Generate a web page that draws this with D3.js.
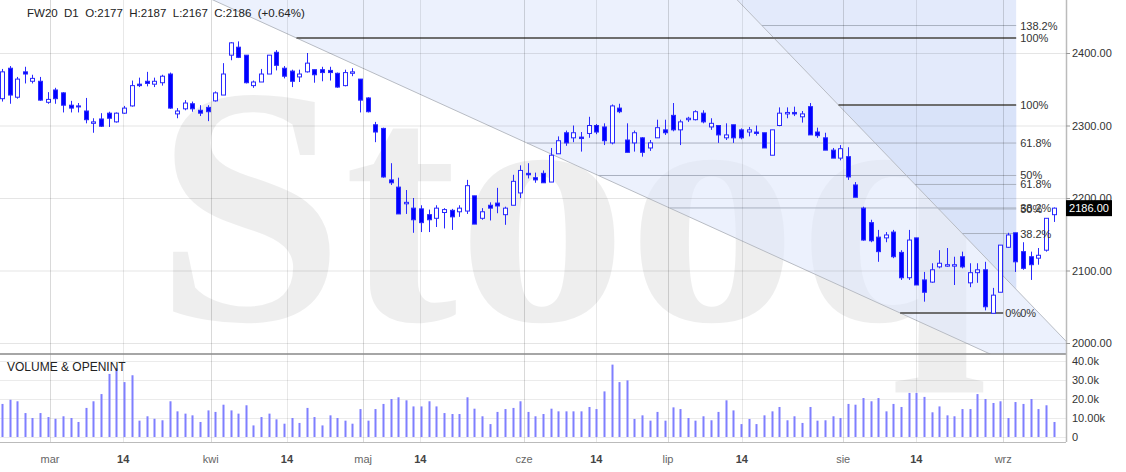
<!DOCTYPE html>
<html>
<head>
<meta charset="utf-8">
<script src="https://cdn.jsdelivr.net/npm/d3@7"></script>
<style>
  body { margin: 0; background: #fff; }
  svg { display: block; font-family: "Liberation Sans", Arial, sans-serif; }
</style>
</head>
<body>
<div id="chart"></div>
<script>
// FW20 daily, 20 Feb - 10 Sep (candle index 0..138)
var openP = [2337,2379,2339,2374,2361,2361,2332,2349,2345,2328,2327,2320,2303,2309,2317,2305,2317,2327,2357,2361,
  2357,2359,2371,2316,2323,2330,2321,2325,2334,2342,2397,2408,2397,2355,2360,2371,2401,2379,2375,2367,
  2374,2377,2377,2376,2372,2355,2372,2364,2338,2301,2296,2225,2215,2192,2186,2185,2177,2172,2180,2183,
  2181,2182,2203,2172,2190,2193,2177,2190,2207,2234,2228,2234,2222,2261,2290,2283,2284,2289,2300,2298,
  2276,2324,2280,2276,2283,2269,2283,2294,2314,2294,2308,2308,2317,2298,2300,2283,2301,2294,2291,2291,
  2290,2259,2300,2316,2318,2312,2326,2291,2283,2266,2255,2257,2218,2186,2166,2146,2145,2153,2125,2090,
  2145,2087,2084,2105,2106,2106,2119,2083,2097,2101,2041,2070,2132,2152,2126,2119,2117,2128,2177];
var highP = [2378,2382,2367,2381,2370,2367,2346,2352,2346,2334,2331,2338,2310,2317,2319,2318,2327,2362,2366,2374,
  2366,2370,2373,2324,2335,2333,2328,2328,2347,2386,2415,2416,2397,2362,2378,2397,2404,2382,2377,2377,
  2400,2377,2381,2381,2373,2377,2379,2364,2339,2305,2297,2248,2228,2211,2200,2190,2184,2190,2186,2185,
  2190,2225,2203,2186,2194,2214,2188,2232,2245,2248,2235,2238,2269,2285,2293,2300,2291,2312,2302,2303,
  2329,2330,2303,2293,2284,2280,2308,2308,2331,2308,2312,2321,2321,2310,2300,2303,2301,2296,2298,2300,
  2290,2294,2325,2325,2326,2320,2331,2297,2290,2269,2273,2270,2222,2188,2170,2156,2153,2156,2128,2156,
  2145,2098,2110,2128,2131,2119,2126,2110,2110,2112,2076,2135,2152,2152,2139,2126,2131,2172,2187];
var lowP = [2333,2330,2337,2358,2358,2334,2330,2330,2318,2318,2318,2303,2290,2298,2298,2304,2316,2326,2353,2354,
  2353,2355,2323,2310,2321,2319,2313,2306,2333,2342,2390,2393,2358,2352,2360,2371,2376,2365,2353,2360,
  2373,2359,2361,2362,2352,2354,2368,2318,2318,2277,2228,2218,2178,2178,2152,2153,2153,2160,2158,2156,
  2174,2178,2164,2170,2169,2179,2163,2190,2200,2227,2221,2221,2222,2261,2272,2277,2264,2283,2288,2273,
  2274,2317,2263,2264,2257,2265,2283,2287,2292,2273,2305,2307,2303,2294,2276,2280,2276,2281,2285,2286,
  2269,2259,2299,2310,2313,2304,2287,2283,2266,2255,2252,2225,2201,2141,2139,2112,2139,2117,2087,2087,
  2080,2057,2083,2103,2105,2080,2103,2077,2083,2045,2041,2070,2131,2098,2101,2087,2108,2126,2167];
var closeP = [2374,2342,2364,2371,2365,2335,2336,2337,2328,2324,2326,2308,2305,2299,2310,2317,2324,2355,2355,2358,
  2361,2368,2324,2320,2331,2323,2317,2319,2345,2371,2414,2394,2359,2360,2371,2397,2383,2368,2361,2371,
  2386,2370,2373,2373,2353,2373,2374,2335,2319,2291,2229,2221,2178,2194,2170,2166,2170,2186,2184,2174,
  2186,2217,2164,2181,2186,2189,2186,2223,2238,2232,2225,2221,2259,2279,2276,2290,2282,2300,2291,2279,
  2327,2319,2263,2290,2263,2276,2297,2290,2294,2305,2310,2319,2305,2303,2287,2287,2283,2283,2294,2289,
  2269,2294,2317,2318,2316,2316,2287,2286,2266,2255,2268,2229,2201,2142,2141,2126,2149,2119,2090,2142,
  2080,2070,2101,2110,2108,2108,2105,2097,2101,2050,2066,2135,2149,2112,2103,2108,2121,2172,2186];
var volume = [17.4,19.6,18.8,12.6,10.0,12.6,10.5,9.6,10.9,10.0,7.9,15.3,18.8,22.6,33.2,36.3,28.9,32.5,8.6,10.9,
  9.6,8.8,18.8,13.5,12.3,11.4,7.9,14.0,13.2,17.0,14.0,12.3,16.7,6.1,10.5,12.3,9.3,7.0,10.0,7.4,
  15.3,10.5,6.1,11.4,10.0,8.6,7.0,14.7,8.6,14.7,17.4,20.0,20.9,19.3,16.1,16.1,18.8,16.1,12.6,12.1,
  12.1,20.9,14.9,10.9,6.8,13.2,14.7,15.3,18.8,13.2,10.9,12.1,14.9,13.5,13.5,13.5,13.5,15.8,14.7,24.0,
  38.1,28.9,29.8,9.5,11.4,8.6,13.2,8.6,15.6,14.7,10.0,8.6,10.9,8.8,13.2,19.3,14.0,6.8,9.5,6.8,
  11.4,13.5,15.8,8.8,10.9,7.4,15.8,8.6,8.8,10.9,10.0,17.4,17.0,20.5,18.8,20.5,13.5,17.4,15.8,23.2,
  23.2,21.1,13.0,16.1,11.4,10.9,14.7,14.7,22.6,20.0,17.9,18.8,10.0,18.4,17.4,20.0,14.7,16.7,7.9];

var tickPos = [6.3,15.9,27.4,37.4,47.4,54.9,68.5,78,87.4,97.1,110.4,120,131.4];
var tickLabels = ["mar","14","kwi","14","maj","14","cze","14","lip","14","sie","14","wrz"];
var priceTicks = [2000,2100,2200,2300,2400];
var volTicks = [0,10,20,30,40];
var volTickLabels = ["0","10.00k","20.0k","30.0k","40.0k"];

// drawing tools: two trend lines (index, price) and two fibonacci retracements
var trend1 = [[27.7,2473.1],[129.4,1986.2]];
var trend2 = [[96.5,2473.1],[139.5,2004.1]];
var fibEnd = 133.1;
var fib1 = {p0: 2041.4, p100: 2420.7, levels: [0, 0.382, 0.5, 0.618, 1], zeroShift: -15};
var fib2 = {p0: 2041.4, p100: 2328.3, levels: [0, 0.382, 0.5, 0.618, 1, 1.382], zeroShift: 0};

var title = "FW20  D1  O:2177  H:2187  L:2167  C:2186  (+0.64%)";
var lastClose = closeP[closeP.length - 1];

var width = 1126, height = 472;
var plotRight = 1066, mainBottom = 354, volBottom = 442;

var svg = d3.select("#chart").append("svg")
  .attr("width", width)
  .attr("height", height);

var x = d3.scaleLinear().domain([0, 138]).range([2, 1053.5]);
var y = d3.scaleLinear().domain([2000, 2400]).range([343, 53]);
var yv = d3.scaleLinear().domain([0, 40]).range([437, 361]);

var defs = svg.append("defs");
defs.append("clipPath").attr("id", "mainClip")
  .append("rect").attr("x", 0).attr("y", 0).attr("width", plotRight).attr("height", mainBottom);

function onLine(L, p) {
  return L[0][0] + (p - L[0][1]) * (L[1][0] - L[0][0]) / (L[1][1] - L[0][1]);
}
function priceOnLine(L, i) {
  return L[0][1] + (i - L[0][0]) * (L[1][1] - L[0][1]) / (L[1][0] - L[0][0]);
}
function pt(i, p) { return [x(i), y(p)]; }

// watermark
svg.append("text")
  .attr("x", 155)
  .attr("y", 320)
  .attr("font-family", "'Liberation Serif', 'DejaVu Serif', serif")
  .attr("font-weight", "bold")
  .attr("font-size", 340)
  .attr("fill", "#000")
  .attr("fill-opacity", 0.065)
  .text("Stooq");

var main = svg.append("g").attr("clip-path", "url(#mainClip)");

// fills from drawings
var topP = 2520, botP = 1950;
main.append("polygon")
  .attr("points", [pt(onLine(trend1, topP), topP), pt(onLine(trend1, botP), botP),
                   pt(onLine(trend2, botP), botP), pt(onLine(trend2, topP), topP)].join(" "))
  .attr("fill", "#dfe8fb").attr("fill-opacity", 0.6);
main.append("polygon")
  .attr("points", [pt(onLine(trend2, topP), topP), pt(fibEnd, topP),
                   pt(fibEnd, priceOnLine(trend2, fibEnd))].join(" "))
  .attr("fill", "#e3eafb");
main.append("polygon")
  .attr("points", [pt(onLine(trend2, fib2.p100), fib2.p100), pt(fibEnd, fib2.p100),
                   pt(fibEnd, priceOnLine(trend2, fibEnd))].join(" "))
  .attr("fill", "#d9e3f9");

// grid
svg.append("g").selectAll("line").data(priceTicks).enter().append("line")
  .attr("x1", 0).attr("x2", plotRight)
  .attr("y1", function (d) { return y(d) + 0.5; }).attr("y2", function (d) { return y(d) + 0.5; })
  .attr("stroke", "#000").attr("stroke-opacity", 0.1);
svg.append("g").selectAll("line").data(volTicks).enter().append("line")
  .attr("x1", 0).attr("x2", plotRight)
  .attr("y1", function (d) { return yv(d) + 0.5; }).attr("y2", function (d) { return yv(d) + 0.5; })
  .attr("stroke", "#000").attr("stroke-opacity", 0.08);
svg.append("g").selectAll("line").data(tickPos).enter().append("line")
  .attr("x1", function (d) { return Math.round(x(d)) + 0.5; })
  .attr("x2", function (d) { return Math.round(x(d)) + 0.5; })
  .attr("y1", 0).attr("y2", volBottom)
  .attr("stroke", "#000")
  .attr("stroke-opacity", function (d, i) { return tickLabels[i] === "14" ? 0.09 : 0.15; });

// trend lines
[trend1, trend2].forEach(function (L) {
  main.append("line")
    .attr("x1", x(onLine(L, topP))).attr("y1", y(topP))
    .attr("x2", x(onLine(L, botP))).attr("y2", y(botP))
    .attr("stroke", "#b8bcc4").attr("stroke-width", 1);
});

// fib levels
function drawFib(f, L, labelX) {
  f.levels.forEach(function (lv) {
    var p = f.p0 + lv * (f.p100 - f.p0);
    var strong = (lv === 0 || lv === 1);
    var x1 = x(onLine(L, p)), x2 = x(fibEnd);
    if (lv === 0) x2 = x(fibEnd) - 13;
    if (x1 < x2) {
      main.append("line")
        .attr("x1", x1).attr("x2", x2)
        .attr("y1", y(p)).attr("y2", y(p))
        .attr("stroke", strong ? "#6e6e6e" : "#a9b1c0")
        .attr("stroke-width", strong ? 2 : 1);
    }
    svg.append("text")
      .attr("x", lv === 0 ? labelX + f.zeroShift : labelX)
      .attr("y", y(p) + 4)
      .attr("font-size", 11)
      .attr("fill", "#333")
      .text((Math.round(lv * 1000) / 10) + "%");
  });
}
drawFib(fib1, trend1, x(fibEnd) + 4);
drawFib(fib2, trend2, x(fibEnd) + 4);

// panel frames
svg.append("line").attr("x1", 0).attr("x2", plotRight).attr("y1", mainBottom).attr("y2", mainBottom)
  .attr("stroke", "#888").attr("stroke-width", 1.5);
svg.append("line").attr("x1", 0).attr("x2", plotRight).attr("y1", volBottom + 0.5).attr("y2", volBottom + 0.5)
  .attr("stroke", "#bbb");
svg.append("line").attr("x1", plotRight + 0.5).attr("x2", plotRight + 0.5).attr("y1", 0).attr("y2", volBottom)
  .attr("stroke", "#bbb").attr("stroke-width", 1.5);

// candles
var idx = d3.range(openP.length);
var candles = main.append("g");
candles.selectAll("line").data(idx).enter().append("line")
  .attr("x1", function (i) { return Math.round(x(i)) + 0.5; })
  .attr("x2", function (i) { return Math.round(x(i)) + 0.5; })
  .attr("y1", function (i) { return y(highP[i]); })
  .attr("y2", function (i) { return y(lowP[i]); })
  .attr("stroke", "#2a2aff");
candles.selectAll("rect").data(idx).enter().append("rect")
  .attr("x", function (i) { return Math.round(x(i)) - 1.5; })
  .attr("y", function (i) { return y(Math.max(openP[i], closeP[i])); })
  .attr("width", 4)
  .attr("height", function (i) { return Math.max(1, Math.abs(y(openP[i]) - y(closeP[i]))); })
  .attr("fill", function (i) { return closeP[i] >= openP[i] ? "#fff" : "#0000ff"; })
  .attr("stroke", "#2a2aff");

// volume
svg.append("g").selectAll("rect").data(idx).enter().append("rect")
  .attr("x", function (i) { return Math.round(x(i)) - 0.5; })
  .attr("y", function (i) { return yv(volume[i]); })
  .attr("width", 2)
  .attr("height", function (i) { return yv(0) - yv(volume[i]); })
  .attr("fill", "#7f7fff");

// right axes
svg.append("g").selectAll("text").data(priceTicks).enter().append("text")
  .attr("x", plotRight + 6).attr("y", function (d) { return y(d) + 4; })
  .attr("font-size", 11).attr("fill", "#333")
  .text(function (d) { return d3.format(".2f")(d); });
svg.append("g").selectAll("line").data(priceTicks).enter().append("line")
  .attr("x1", plotRight).attr("x2", plotRight + 4)
  .attr("y1", function (d) { return y(d) + 0.5; }).attr("y2", function (d) { return y(d) + 0.5; })
  .attr("stroke", "#999");
svg.append("g").selectAll("text").data(volTicks).enter().append("text")
  .attr("x", plotRight + 6).attr("y", function (d) { return yv(d) + 4; })
  .attr("font-size", 11).attr("fill", "#333")
  .text(function (d, i) { return volTickLabels[i]; });

// last price box
svg.append("rect")
  .attr("x", plotRight).attr("y", y(lastClose) - 8)
  .attr("width", 46).attr("height", 16).attr("fill", "#000");
svg.append("text")
  .attr("x", plotRight + 23).attr("y", y(lastClose) + 4)
  .attr("text-anchor", "middle").attr("font-size", 11).attr("fill", "#fff")
  .text(d3.format(".2f")(lastClose));

// bottom axis labels
svg.append("g").selectAll("text").data(tickPos).enter().append("text")
  .attr("x", function (d) { return x(d); }).attr("y", 463)
  .attr("text-anchor", "middle").attr("font-size", 11)
  .attr("font-weight", function (d, i) { return tickLabels[i] === "14" ? "bold" : "normal"; })
  .attr("fill", function (d, i) { return tickLabels[i] === "14" ? "#444" : "#666"; })
  .text(function (d, i) { return tickLabels[i]; });

// titles
svg.append("text").attr("x", 27).attr("y", 17).attr("font-size", 11.5).attr("fill", "#222")
  .style("white-space", "pre").text(title);
svg.append("text").attr("x", 7).attr("y", 371).attr("font-size", 12).attr("fill", "#222")
  .text("VOLUME & OPENINT");
</script>
</body>
</html>
